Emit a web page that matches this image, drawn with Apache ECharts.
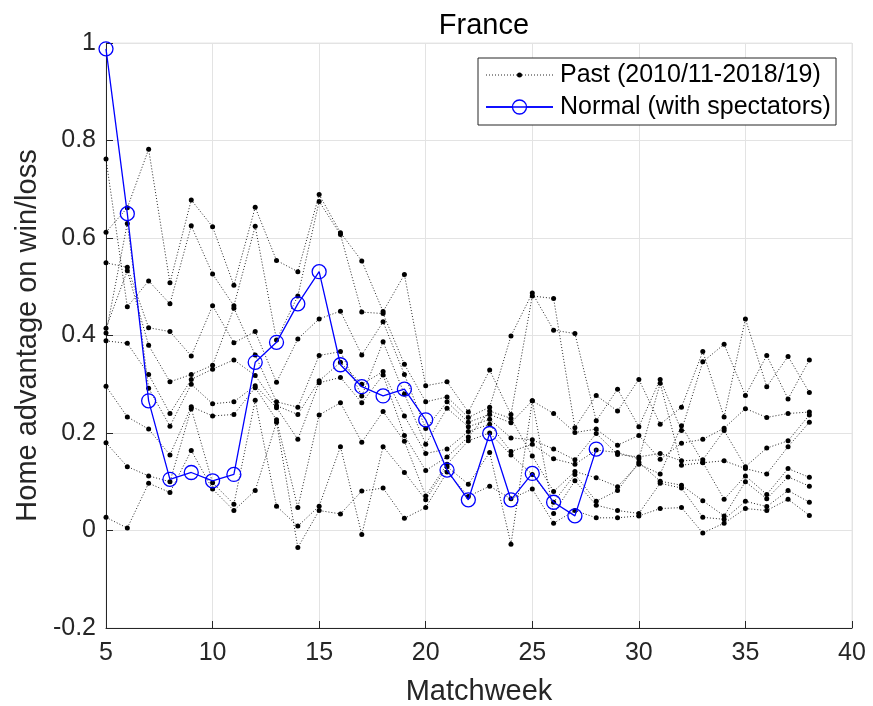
<!DOCTYPE html>
<html>
<head>
<meta charset="utf-8">
<script src="https://cdn.jsdelivr.net/npm/echarts@6/dist/echarts.min.js"></script>
<style>html,body{margin:0;padding:0;background:#fff}#c{width:873px;height:706px}</style>
</head>
<body>
<div id="c"></div>
<script>
var matchweeks = [5,6,7,8,9,10,11,12,13,14,15,16,17,18,19,20,21,22,23,24,25,26,27,28,29,30,31,32,33,34,35,36,37,38];
var normalWeeks = [5,6,7,8,9,10,11,12,13,14,15,16,17,18,19,20,21,22,23,24,25,26,27,28];
var normalValues = [0.988,0.650,0.266,0.105,0.119,0.102,0.115,0.345,0.386,0.465,0.531,0.340,0.295,0.276,0.290,0.227,0.124,0.063,0.199,0.063,0.117,0.058,0.030,0.167];

var past1 = [0.612,0.662,0.782,0.508,0.678,0.623,0.503,0.663,0.554,0.531,0.689,0.611,0.553,0.449,0.525,0.297,0.305,0.243,0.329,0.238,0.481,0.476,0.211,0.277,0.245,0.310,0.218,0.253,0.367,0.233,0.434,0.295,0.357,0.283];
var past2 = [0.762,0.459,0.512,0.465,0.625,0.526,0.461,0.624,0.391,0.481,0.675,0.607,0.448,0.445,0.341,0.264,0.274,0.232,0.253,0.399,0.487,0.411,0.404,0.225,0.290,0.213,0.310,0.205,0.346,0.382,0.277,0.359,0.270,0.350];
var past3 = [0.549,0.540,0.416,0.408,0.358,0.461,0.385,0.408,0.304,0.393,0.434,0.450,0.360,0.428,0.320,0.209,0.264,0.222,0.238,0.221,0.266,0.240,0.201,0.208,0.175,0.195,0.146,0.179,0.187,0.210,0.250,0.232,0.240,0.243];
var past4 = [0.415,0.533,0.380,0.305,0.320,0.339,0.456,0.360,0.264,0.253,0.359,0.367,0.276,0.387,0.280,0.177,0.251,0.213,0.228,0.190,0.186,0.167,0.145,0.199,0.156,0.151,0.158,0.143,0.145,0.205,0.131,0.169,0.184,0.237];
var past5 = [0.389,0.384,0.320,0.240,0.310,0.331,0.350,0.318,0.256,0.238,0.307,0.345,0.300,0.326,0.235,0.158,0.167,0.203,0.218,0.162,0.177,0.147,0.136,0.165,0.160,0.147,0.302,0.134,0.139,0.143,0.127,0.116,0.172,0.222];
var past6 = [0.405,0.630,0.292,0.214,0.300,0.260,0.264,0.297,0.252,0.187,0.303,0.314,0.262,0.319,0.195,0.123,0.151,0.192,0.245,0.230,0.153,0.080,0.121,0.108,0.090,0.136,0.116,0.215,0.140,0.064,0.112,0.074,0.127,0.109];
var past7 = [0.296,0.233,0.208,0.155,0.254,0.235,0.238,0.293,0.227,0.047,0.237,0.262,0.181,0.244,0.183,0.071,0.136,0.184,0.200,0.155,0.115,0.058,0.115,0.060,0.082,0.140,0.101,0.093,0.061,0.030,0.100,0.065,0.110,0.091];
var past8 = [0.180,0.131,0.112,0.100,0.250,0.098,0.054,0.267,0.050,0.009,0.050,0.172,-0.008,0.172,0.119,0.063,0.131,0.095,0.160,-0.028,0.266,0.035,0.102,0.052,0.041,0.035,0.097,0.087,0.027,0.023,0.060,0.049,0.082,0.058];
var past9 = [0.027,0.005,0.097,0.078,0.164,0.085,0.041,0.082,0.222,-0.035,0.041,0.034,0.081,0.087,0.025,0.047,0.120,0.070,0.091,0.065,0.085,0.015,0.041,0.026,0.026,0.030,0.045,0.047,-0.005,0.015,0.045,0.041,0.064,0.031];
var pastSeasons = [past1,past2,past3,past4,past5,past6,past7,past8,past9];

var xTicks = [5,10,15,20,25,30,35,40];
var yTicks = [-0.2,0,0.2,0.4,0.6,0.8,1];

var pastName = 'Past (2010/11-2018/19)';
var normalName = 'Normal (with spectators)';
var font = 'Liberation Sans, Arial, Helvetica, sans-serif';

function pairs(xs, ys){ return ys.map(function(v,i){ return [xs[i], v]; }); }

var series = pastSeasons.map(function(arr){
  return {
    name: pastName, type: 'line', data: pairs(matchweeks, arr),
    symbol: 'circle', symbolSize: 5,
    itemStyle: {color: '#000'},
    lineStyle: {color: '#000', width: 1, type: [1,2], opacity: 0.85},
    z: 2, animation: false
  };
});
series.push({
  name: normalName, type: 'line', data: pairs(normalWeeks, normalValues),
  symbol: 'circle', symbolSize: 14,
  itemStyle: {color: 'rgba(255,255,255,0)', borderColor: '#0000ff', borderWidth: 1.3},
  lineStyle: {color: '#0000ff', width: 1.3},
  z: 5, animation: false
});

var lgX = 478, lgY = 58, lgW = 358, lgH = 67;
var legendGraphic = [
  {type: 'rect', shape: {x: lgX, y: lgY, width: lgW, height: lgH}, style: {fill: '#fff', stroke: '#262626', lineWidth: 1}, z: 10},
  {type: 'line', shape: {x1: 486, y1: 75, x2: 553, y2: 75}, style: {stroke: '#000', lineWidth: 1, lineDash: [1,2], opacity: 0.85}, z: 11},
  {type: 'circle', shape: {cx: 519.5, cy: 75, r: 2.5}, style: {fill: '#000'}, z: 11},
  {type: 'text', x: 560, y: 75, style: {text: pastName, fill: '#000', font: '25px ' + font, textVerticalAlign: 'middle', verticalAlign: 'middle'}, z: 11},
  {type: 'line', shape: {x1: 486, y1: 107, x2: 553, y2: 107}, style: {stroke: '#0000ff', lineWidth: 1.3}, z: 11},
  {type: 'circle', shape: {cx: 519.5, cy: 107, r: 7}, style: {fill: '#fff', stroke: '#0000ff', lineWidth: 1.3}, z: 11},
  {type: 'line', shape: {x1: 486, y1: 107, x2: 553, y2: 107}, style: {stroke: '#0000ff', lineWidth: 1.3}, z: 12},
  {type: 'text', x: 560, y: 107, style: {text: normalName, fill: '#000', font: '25px ' + font, textVerticalAlign: 'middle', verticalAlign: 'middle'}, z: 11}
];

var chart = echarts.init(document.getElementById('c'), null, {renderer: 'canvas'});
chart.setOption({
  animation: false,
  backgroundColor: '#fff',
  title: {text: 'France', left: 479, top: 6, textAlign: 'center',
    textStyle: {fontFamily: font, fontSize: 29, fontWeight: 'normal', color: '#000'}},
  grid: {left: 106, right: 21, top: 43, bottom: 78, show: true, borderColor: '#e6e6e6', borderWidth: 1,
    containLabel: false, outerBoundsMode: 'none'},
  graphic: legendGraphic,
  xAxis: {
    type: 'value', min: 5, max: 40, interval: 5,
    name: 'Matchweek', nameLocation: 'middle', nameGap: 49,
    nameTextStyle: {fontFamily: font, fontSize: 29, color: '#262626'},
    axisLine: {onZero: false, lineStyle: {color: '#262626', width: 1}},
    axisTick: {inside: true, length: 7, lineStyle: {color: '#262626'}},
    axisLabel: {fontFamily: font, fontSize: 25, color: '#262626', margin: 13},
    splitLine: {show: true, lineStyle: {color: '#e3e3e3', width: 1}}
  },
  yAxis: {
    type: 'value', min: -0.2, max: 1, interval: 0.2,
    name: 'Home advantage on win/loss', nameLocation: 'middle', nameGap: 64,
    nameTextStyle: {fontFamily: font, fontSize: 29, color: '#262626'},
    axisLine: {show: true, onZero: false, lineStyle: {color: '#262626', width: 1}},
    axisTick: {show: true, inside: true, length: 7, lineStyle: {color: '#262626'}},
    axisLabel: {fontFamily: font, fontSize: 25, color: '#262626', margin: 10,
      formatter: function(v){ var r = Math.round(v*10)/10; return r === 0 ? '0' : String(r); }},
    splitLine: {show: true, lineStyle: {color: '#e3e3e3', width: 1}}
  },
  series: series
});
</script>
</body>
</html>
